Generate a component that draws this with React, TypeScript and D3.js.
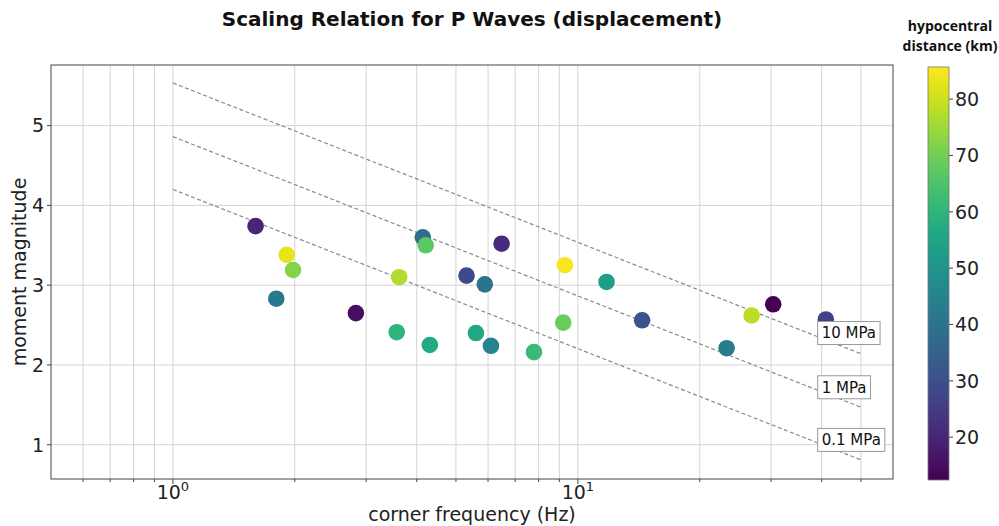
import { useEffect, useRef } from "react";
import * as d3 from "d3";

// corner frequency (Hz), moment magnitude, hypocentral distance (km)
const freqs = [1.6, 1.91, 1.98, 1.8, 2.83, 3.62, 3.57, 4.31, 4.14, 4.21, 5.31, 5.89, 6.48, 5.6, 6.1, 7.79, 9.29, 9.2, 11.77, 14.41, 23.3, 26.85, 30.36, 40.96];
const mags = [3.74, 3.38, 3.19, 2.83, 2.65, 3.1, 2.41, 2.25, 3.6, 3.5, 3.12, 3.01, 3.52, 2.4, 2.24, 2.16, 3.25, 2.53, 3.04, 2.56, 2.21, 2.62, 2.76, 2.57];
const dists = [20, 83, 72, 42, 15, 77, 60, 57, 38, 67, 29, 40, 21, 56, 45, 62, 85, 69, 53, 32, 43, 78, 12.5, 27];

// constant stress drop lines
const stressLabels = ["10 MPa", "1 MPa", "0.1 MPa"];
const lineFreqs = [1, 50];
const lineStartMag = [5.535, 4.862, 4.2];
const lineEndMag = [2.14, 1.47, 0.81];
const labelFreq = 40;
const labelMag = [2.4, 1.72, 1.06];

const yTicks = [1, 2, 3, 4, 5];
const xMajor = [1, 10];
const xMinor = [0.6, 0.7, 0.8, 0.9, 2, 3, 4, 5, 6, 7, 8, 9, 20, 30, 40, 50];
const cbTicks = [20, 30, 40, 50, 60, 70, 80];

const FONT = "DejaVu Sans";

export default function App() {
  const ref = useRef<SVGSVGElement>(null);

  useEffect(() => {
    const svg = d3.select(ref.current);
    svg.selectAll("*").remove();

    const left = 51, right = 893, top = 65, bottom = 479;
    const x = d3.scaleLog().domain([0.5, 60]).range([left, right]);
    const y = d3.scaleLinear().domain([0.57, 5.76]).range([bottom, top]);
    const color = d3.scaleSequential(d3.interpolateViridis).domain([12.4, 85.7]);

    svg.append("rect").attr("width", 999).attr("height", 526).attr("fill", "#fff");

    // grid
    const grid = svg.append("g").attr("stroke", "#d4d4d4").attr("stroke-width", 1);
    grid.selectAll(".gx").data(xMajor.concat(xMinor)).join("line")
      .attr("x1", (d) => x(d)).attr("x2", (d) => x(d))
      .attr("y1", top).attr("y2", bottom);
    grid.selectAll(".gy").data(yTicks).join("line")
      .attr("x1", left).attr("x2", right)
      .attr("y1", (d) => y(d)).attr("y2", (d) => y(d));

    // stress drop lines
    svg.append("g").selectAll("line").data(stressLabels).join("line")
      .attr("x1", x(lineFreqs[0])).attr("x2", x(lineFreqs[1]))
      .attr("y1", (_, i) => y(lineStartMag[i]))
      .attr("y2", (_, i) => y(lineEndMag[i]))
      .attr("stroke", "#8a8a8a").attr("stroke-width", 1.2)
      .attr("stroke-dasharray", "4,2.5");

    // points
    svg.append("g").selectAll("circle").data(freqs).join("circle")
      .attr("cx", (d) => x(d))
      .attr("cy", (_, i) => y(mags[i]))
      .attr("r", 8.3)
      .attr("fill", (_, i) => color(dists[i]));

    // labels
    const lab = svg.append("g").selectAll("g").data(stressLabels).join("g")
      .attr("transform", (_, i) => `translate(${x(labelFreq)},${y(labelMag[i])})`);
    const rects = lab.append("rect").attr("fill", "#fff").attr("stroke", "#999").attr("stroke-width", 1);
    const texts = lab.append("text")
      .attr("font-family", FONT).attr("font-size", 15).attr("fill", "#111")
      .attr("dy", "0.36em")
      .text((d) => d);
    texts.each(function (_, i) {
      const bb = (this as SVGTextElement).getBBox();
      d3.select(rects.nodes()[i])
        .attr("x", bb.x - 4).attr("y", -11.5)
        .attr("width", bb.width + 8).attr("height", 23);
    });

    // spines
    svg.append("rect").attr("x", left).attr("y", top)
      .attr("width", right - left).attr("height", bottom - top)
      .attr("fill", "none").attr("stroke", "#444").attr("stroke-width", 1);

    // x ticks
    const xt = svg.append("g").attr("stroke", "#444");
    xt.selectAll(".maj").data(xMajor).join("line")
      .attr("x1", (d) => x(d)).attr("x2", (d) => x(d))
      .attr("y1", bottom).attr("y2", bottom + 5);
    xt.selectAll(".min").data(xMinor).join("line")
      .attr("x1", (d) => x(d)).attr("x2", (d) => x(d))
      .attr("y1", bottom).attr("y2", bottom + 3);
    const xl = svg.append("g").selectAll("text").data(xMajor).join("text")
      .attr("x", (d) => x(d)).attr("y", 499)
      .attr("text-anchor", "middle")
      .attr("font-family", FONT).attr("font-size", 19).attr("fill", "#222");
    xl.append("tspan").text("10");
    xl.append("tspan").attr("dy", -8).attr("font-size", 13).text((d) => String(Math.round(Math.log10(d))));

    // y ticks
    svg.append("g").selectAll("line").data(yTicks).join("line")
      .attr("x1", left - 4).attr("x2", left)
      .attr("y1", (d) => y(d)).attr("y2", (d) => y(d))
      .attr("stroke", "#444");
    svg.append("g").selectAll("text").data(yTicks).join("text")
      .attr("x", left - 7).attr("y", (d) => y(d))
      .attr("dy", "0.36em").attr("text-anchor", "end")
      .attr("font-family", FONT).attr("font-size", 19).attr("fill", "#222")
      .text((d) => d);

    // axis labels and title
    svg.append("text").attr("x", (left + right) / 2).attr("y", 521)
      .attr("text-anchor", "middle").attr("font-family", FONT).attr("font-size", 19)
      .attr("fill", "#222").text("corner frequency (Hz)");
    svg.append("text").attr("transform", `translate(26,${(top + bottom) / 2}) rotate(-90)`)
      .attr("text-anchor", "middle").attr("font-family", FONT).attr("font-size", 19)
      .attr("fill", "#222").text("moment magnitude");
    svg.append("text").attr("x", (left + right) / 2).attr("y", 26)
      .attr("text-anchor", "middle").attr("font-family", FONT).attr("font-size", 20)
      .attr("font-weight", "bold").attr("fill", "#111")
      .text("Scaling Relation for P Waves (displacement)");

    // colorbar
    const cbX = 928, cbW = 21;
    const cb = d3.scaleLinear().domain(color.domain()).range([480, 67]);
    const grad = svg.append("defs").append("linearGradient")
      .attr("id", "vir").attr("x1", 0).attr("x2", 0).attr("y1", 1).attr("y2", 0);
    grad.selectAll("stop").data(d3.range(0, 1.0001, 0.05)).join("stop")
      .attr("offset", (d) => d)
      .attr("stop-color", (d) => d3.interpolateViridis(d));
    svg.append("rect").attr("x", cbX).attr("y", 67).attr("width", cbW).attr("height", 413)
      .attr("fill", "url(#vir)").attr("stroke", "#777").attr("stroke-width", 0.8);
    svg.append("g").selectAll("line").data(cbTicks).join("line")
      .attr("x1", cbX + cbW).attr("x2", cbX + cbW + 4)
      .attr("y1", (d) => cb(d)).attr("y2", (d) => cb(d))
      .attr("stroke", "#444");
    svg.append("g").selectAll("text").data(cbTicks).join("text")
      .attr("x", cbX + cbW + 6).attr("y", (d) => cb(d)).attr("dy", "0.36em")
      .attr("font-family", FONT).attr("font-size", 19).attr("fill", "#222")
      .text((d) => d);
    const cbl = svg.append("text").attr("text-anchor", "middle")
      .attr("font-family", "Open Sans").attr("font-weight", "bold").attr("font-size", 14)
      .attr("fill", "#111");
    cbl.append("tspan").attr("x", 950).attr("y", 31).text("hypocentral");
    cbl.append("tspan").attr("x", 950).attr("y", 51).text("distance (km)");
  }, []);

  return (
    <svg
      ref={ref}
      width={999}
      height={526}
      style={{ position: "absolute", left: 0, top: 0, display: "block" }}
    />
  );
}
